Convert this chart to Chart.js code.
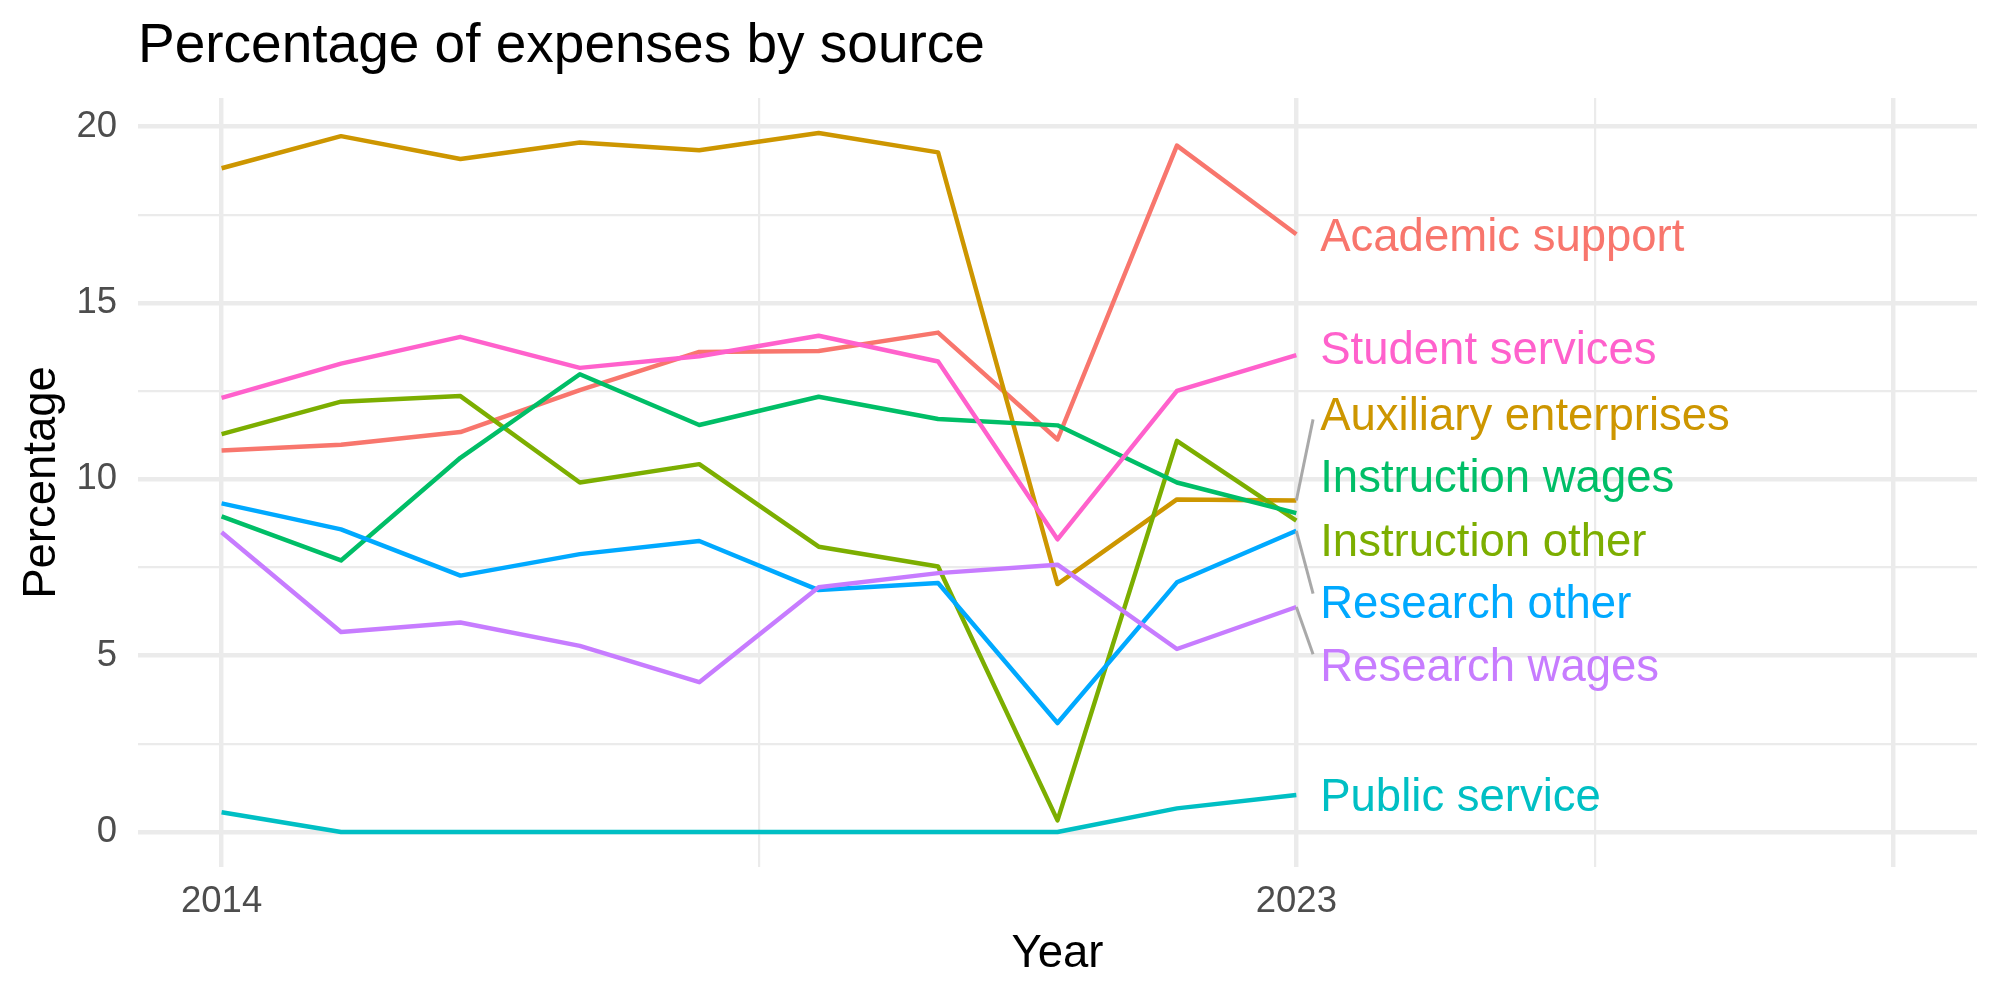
<!DOCTYPE html>
<html>
<head>
<meta charset="utf-8">
<script src="https://cdn.jsdelivr.net/npm/chart.js@4/dist/chart.umd.min.js"></script>
<style>
  html, body { margin: 0; padding: 0; background: #ffffff; }
  #wrap { width: 2000px; height: 1000px; }
</style>
</head>
<body>
<div id="wrap"><canvas id="c" width="2000" height="1000"></canvas></div>
<script>
// ---------------- data ----------------
const years = [2014, 2015, 2016, 2017, 2018, 2019, 2020, 2021, 2022, 2023];
const seriesNames = ["Academic support", "Auxiliary enterprises", "Instruction other", "Instruction wages",
                     "Public service", "Research other", "Research wages", "Student services"];
const academicSupport      = [10.82, 10.98, 11.34, 12.53, 13.61, 13.64, 14.16, 11.13, 19.46, 16.95];
const auxiliaryEnterprises = [18.82, 19.73, 19.08, 19.55, 19.33, 19.82, 19.27, 7.03, 9.43, 9.40];
const instructionOther     = [11.28, 12.20, 12.36, 9.91, 10.43, 8.09, 7.53, 0.33, 11.09, 8.83];
const instructionWages     = [8.95, 7.70, 10.61, 12.98, 11.54, 12.34, 11.71, 11.53, 9.91, 9.04];
const publicService        = [0.56, 0, 0, 0, 0, 0, 0, 0, 0.67, 1.05];
const researchOther        = [9.32, 8.58, 7.27, 7.88, 8.25, 6.86, 7.06, 3.09, 7.08, 8.54];
const researchWages        = [8.50, 5.67, 5.94, 5.28, 4.25, 6.94, 7.34, 7.58, 5.19, 6.38];
const studentServices      = [12.31, 13.28, 14.04, 13.16, 13.49, 14.07, 13.34, 8.30, 12.51, 13.52];
const seriesValues = [academicSupport, auxiliaryEnterprises, instructionOther, instructionWages,
                      publicService, researchOther, researchWages, studentServices];
const yTickLabels = ["0", "5", "10", "15", "20"];
const xTickLabels = ["2014", "2023"];

// ---------------- styling / layout ----------------
const palette = ["#F8766D", "#CD9600", "#7CAE00", "#00BE67", "#00BFC4", "#00A9FF", "#C77CFF", "#FF61CC"];
// direct-label anchor values (data units, after repel)
const labelAnchorY = [16.93, 11.86, 8.30, 10.09, 1.06, 6.52, 4.73, 13.72];
const labelAnchorX = 2023.2;
// connector segments: [series index, end x, end y] in data units
const connectors = [[1, 2023.14, 11.70], [5, 2023.14, 6.76], [6, 2023.14, 5.04]];

const FONT = "'Liberation Sans', Arial, Helvetica, sans-serif";
const X_MIN = 2013.3, X_MAX = 2028.7;
const Y_MIN = -0.991, Y_MAX = 20.811;
const xGridValues = [2014, 2018.5, 2023, 2025.5, 2028];
const xMajor = [2014, 2023, 2028];
const yGridValues = [0, 2.5, 5, 7.5, 10, 12.5, 15, 17.5, 20];

const datasets = seriesNames.map((name, i) => ({
  label: name,
  data: years.map((yr, j) => ({ x: yr, y: seriesValues[i][j] })),
  borderColor: palette[i],
  backgroundColor: palette[i],
  borderWidth: 4.45,
  borderJoinStyle: 'round',
  borderCapStyle: 'butt',
  pointRadius: 0,
  tension: 0,
  fill: false,
  order: seriesNames.length - i
}));

const annotatePlugin = {
  id: 'annotate',
  afterDatasetsDraw(chart) {
    const ctx = chart.ctx;
    const xs = chart.scales.x, ys = chart.scales.y;
    ctx.save();
    // connectors
    ctx.strokeStyle = '#A9A9A9';
    ctx.lineWidth = 3;
    ctx.lineCap = 'butt';
    connectors.forEach(([si, ex, ey]) => {
      const last = seriesValues[si][seriesValues[si].length - 1];
      ctx.beginPath();
      ctx.moveTo(xs.getPixelForValue(years[years.length - 1]), ys.getPixelForValue(last));
      ctx.lineTo(xs.getPixelForValue(ex), ys.getPixelForValue(ey));
      ctx.stroke();
    });
    // labels
    ctx.font = '45.5px ' + FONT;
    ctx.textAlign = 'left';
    ctx.textBaseline = 'alphabetic';
    seriesNames.forEach((name, i) => {
      ctx.fillStyle = palette[i];
      const px = xs.getPixelForValue(labelAnchorX);
      const py = ys.getPixelForValue(labelAnchorY[i]);
      ctx.fillText(name, px, py + 0.358 * 45.5);
    });
    ctx.restore();
  },
  afterDraw(chart) {
    const ctx = chart.ctx;
    const a = chart.chartArea;
    ctx.save();
    ctx.fillStyle = '#000000';
    // title
    ctx.font = '55px ' + FONT;
    ctx.textAlign = 'left';
    ctx.textBaseline = 'alphabetic';
    ctx.fillText('Percentage of expenses by source', a.left, 62);
    // x title
    ctx.font = '45.5px ' + FONT;
    ctx.textAlign = 'center';
    ctx.fillText('Year', (a.left + a.right) / 2, 966.5);
    // y title
    ctx.translate(55, (a.top + a.bottom) / 2);
    ctx.rotate(-Math.PI / 2);
    ctx.fillText('Percentage', 0, 0);
    ctx.restore();
  }
};

new Chart(document.getElementById('c'), {
  type: 'line',
  data: { datasets },
  plugins: [annotatePlugin],
  options: {
    responsive: false,
    animation: false,
    devicePixelRatio: 1,
    layout: { padding: { top: 98, right: 23, bottom: 0, left: 0 } },
    plugins: { legend: { display: false }, tooltip: { enabled: false }, title: { display: false } },
    scales: {
      x: {
        type: 'linear',
        min: X_MIN, max: X_MAX,
        afterFit: (s) => { s.height = 133; },
        afterBuildTicks: (s) => { s.ticks = xGridValues.map(v => ({ value: v })); },
        border: { display: false },
        grid: {
          drawTicks: false,
          color: '#EBEBEB',
          lineWidth: (c) => (c.tick && xMajor.includes(c.tick.value)) ? 4.45 : 2.2
        },
        ticks: {
          autoSkip: false,
          maxRotation: 0,
          padding: 13,
          color: '#4D4D4D',
          font: { family: FONT, size: 36.5, lineHeight: 1.2 },
          callback: (v) => xTickLabels.includes(String(v)) ? String(v) : ''
        }
      },
      y: {
        type: 'linear',
        min: Y_MIN, max: Y_MAX,
        afterFit: (s) => { s.width = 138; },
        afterBuildTicks: (s) => { s.ticks = yGridValues.map(v => ({ value: v })); },
        border: { display: false },
        grid: {
          drawTicks: false,
          color: '#EBEBEB',
          lineWidth: (c) => (c.tick && Number.isInteger(c.tick.value / 5)) ? 4.45 : 2.2
        },
        ticks: {
          autoSkip: false,
          padding: 21,
          color: '#4D4D4D',
          font: { family: FONT, size: 36.5, lineHeight: 1.2 },
          callback: (v) => yTickLabels.includes(String(v)) ? String(v) : ''
        }
      }
    }
  }
});
</script>
</body>
</html>
